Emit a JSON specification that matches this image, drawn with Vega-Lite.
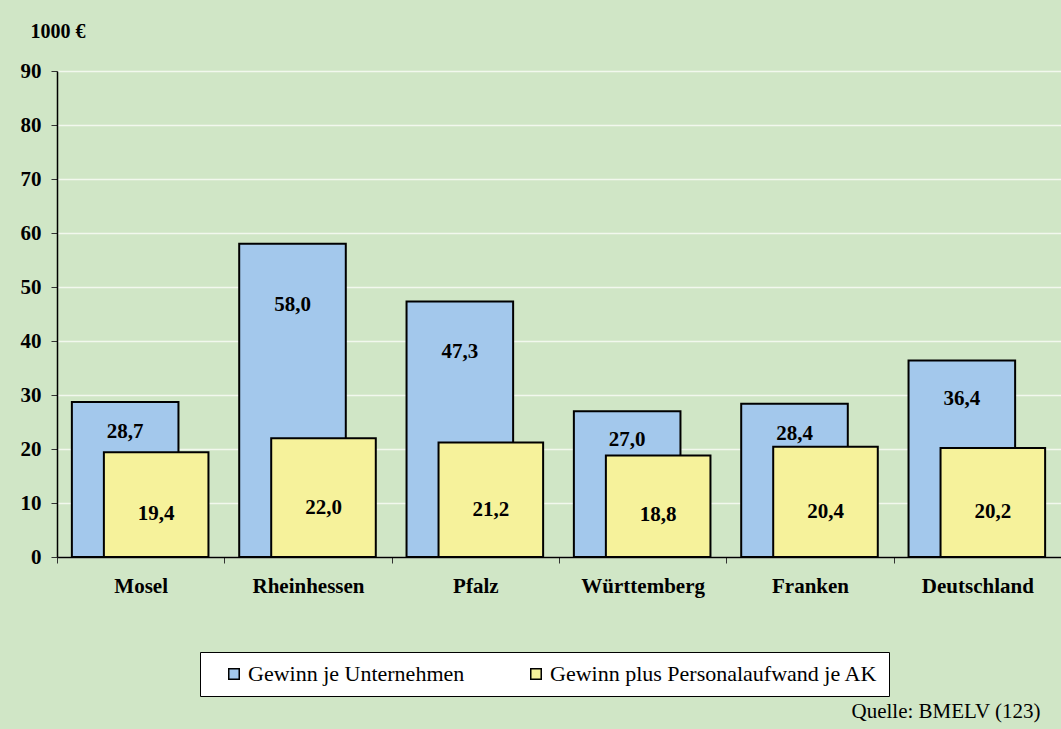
{
  "$schema": "https://vega.github.io/schema/vega-lite/v6.json",
  "width": 1004,
  "height": 486,
  "autosize": "none",
  "padding": {"left": 57, "top": 71, "right": 0, "bottom": 172},
  "background": "#D0E6C6",
  "config": {
    "view": {"stroke": null},
    "font": "Liberation Serif",
    "locale": {"number": {"decimal": ",", "thousands": ".", "grouping": [3], "currency": ["", " €"]}}
  },
  "data": {
    "values": [
      {"region": "Mosel", "series": "Gewinn je Unternehmen", "value": 28.7},
      {"region": "Rheinhessen", "series": "Gewinn je Unternehmen", "value": 58.0},
      {"region": "Pfalz", "series": "Gewinn je Unternehmen", "value": 47.3},
      {"region": "Württemberg", "series": "Gewinn je Unternehmen", "value": 27.0},
      {"region": "Franken", "series": "Gewinn je Unternehmen", "value": 28.4},
      {"region": "Deutschland", "series": "Gewinn je Unternehmen", "value": 36.4},
      {"region": "Mosel", "series": "Gewinn plus Personalaufwand je AK", "value": 19.4},
      {"region": "Rheinhessen", "series": "Gewinn plus Personalaufwand je AK", "value": 22.0},
      {"region": "Pfalz", "series": "Gewinn plus Personalaufwand je AK", "value": 21.2},
      {"region": "Württemberg", "series": "Gewinn plus Personalaufwand je AK", "value": 18.8},
      {"region": "Franken", "series": "Gewinn plus Personalaufwand je AK", "value": 20.4},
      {"region": "Deutschland", "series": "Gewinn plus Personalaufwand je AK", "value": 20.2}
    ]
  },
  "encoding": {
    "x": {
      "field": "region",
      "type": "nominal",
      "sort": null,
      "scale": {"paddingInner": 0, "paddingOuter": 0},
      "axis": {
        "title": "Quelle: BMELV (123)",
        "titleFont": "Liberation Serif",
        "titleFontSize": 21,
        "titleFontWeight": "normal",
        "titleColor": "black",
        "titleAlign": "right",
        "titleAnchor": null,
        "titleBaseline": "alphabetic",
        "titleX": 983,
        "titleY": 160,
        "labelAngle": 0,
        "labelFont": "Liberation Serif",
        "labelFontSize": 21,
        "labelFontWeight": "bold",
        "labelColor": "black",
        "labelPadding": 12,
        "domainColor": "black",
        "domainWidth": 1.5,
        "tickColor": "#333333",
        "tickSize": 6,
        "tickBand": "extent",
        "grid": false
      }
    }
  },
  "layer": [
    {
      "transform": [{"filter": "datum.series === 'Gewinn je Unternehmen'"}],
      "mark": {"type": "bar", "width": {"band": 0.637}, "xOffset": -15.5, "stroke": "black", "strokeWidth": 2},
      "encoding": {
        "y": {
          "field": "value",
          "type": "quantitative",
          "scale": {"domain": [0, 90]},
          "axis": {
            "values": [0, 10, 20, 30, 40, 50, 60, 70, 80, 90],
            "title": "1000 €",
            "titleAngle": 0,
            "titleAlign": "left",
            "titleBaseline": "alphabetic",
            "titleX": -27,
            "titleY": -34,
            "titleFont": "Liberation Serif",
            "titleFontSize": 20,
            "titleFontWeight": "bold",
            "titleColor": "black",
            "labelFont": "Liberation Serif",
            "labelFontSize": 21,
            "labelFontWeight": "bold",
            "labelColor": "black",
            "labelPadding": 10,
            "domainColor": "black",
            "domainWidth": 1.5,
            "tickColor": "#333333",
            "tickSize": 6,
            "grid": true,
            "gridColor": "#F2F8EE",
            "gridWidth": 1.5
          }
        },
        "color": {
          "field": "series",
          "type": "nominal",
          "scale": {
            "domain": ["Gewinn je Unternehmen", "Gewinn plus Personalaufwand je AK"],
            "range": ["#A3C8EC", "#F6F29B"]
          },
          "legend": {
            "title": null,
            "orient": "none",
            "legendX": 143,
            "legendY": 581,
            "direction": "horizontal",
            "fillColor": "white",
            "strokeColor": "black",
            "padding": 11,
            "labelFont": "Liberation Serif",
            "labelFontSize": 22,
            "labelColor": "black",
            "labelLimit": 500,
            "labelOffset": 3,
            "symbolType": "square",
            "symbolSize": 110,
            "symbolStrokeColor": "black",
            "symbolStrokeWidth": 1.5,
            "symbolOffset": 12,
            "columnPadding": 48
          }
        }
      }
    },
    {
      "transform": [{"filter": "datum.series === 'Gewinn plus Personalaufwand je AK'"}],
      "mark": {"type": "bar", "width": {"band": 0.625}, "xOffset": 15.5, "stroke": "black", "strokeWidth": 2},
      "encoding": {
        "y": {"field": "value", "type": "quantitative", "scale": {"domain": [0, 90]}, "axis": null},
        "color": {"field": "series", "type": "nominal"}
      }
    },
    {
      "transform": [{"filter": "datum.series === 'Gewinn je Unternehmen'"}],
      "mark": {"type": "text", "xOffset": -15.5, "font": "Liberation Serif", "fontSize": 21, "fontWeight": "bold", "color": "black", "baseline": "middle"},
      "encoding": {
        "y": {"field": "value", "type": "quantitative", "scale": {"domain": [0, 112]}, "axis": null},
        "text": {"field": "value", "type": "quantitative", "format": ".1f"}
      }
    },
    {
      "transform": [{"filter": "datum.series === 'Gewinn plus Personalaufwand je AK'"}],
      "mark": {"type": "text", "xOffset": 15.5, "font": "Liberation Serif", "fontSize": 21, "fontWeight": "bold", "color": "black", "baseline": "middle"},
      "encoding": {
        "y": {"field": "value", "type": "quantitative", "scale": {"domain": [0, 219]}, "axis": null},
        "text": {"field": "value", "type": "quantitative", "format": ".1f"}
      }
    }
  ],
  "resolve": {"scale": {"y": "independent"}}
}
